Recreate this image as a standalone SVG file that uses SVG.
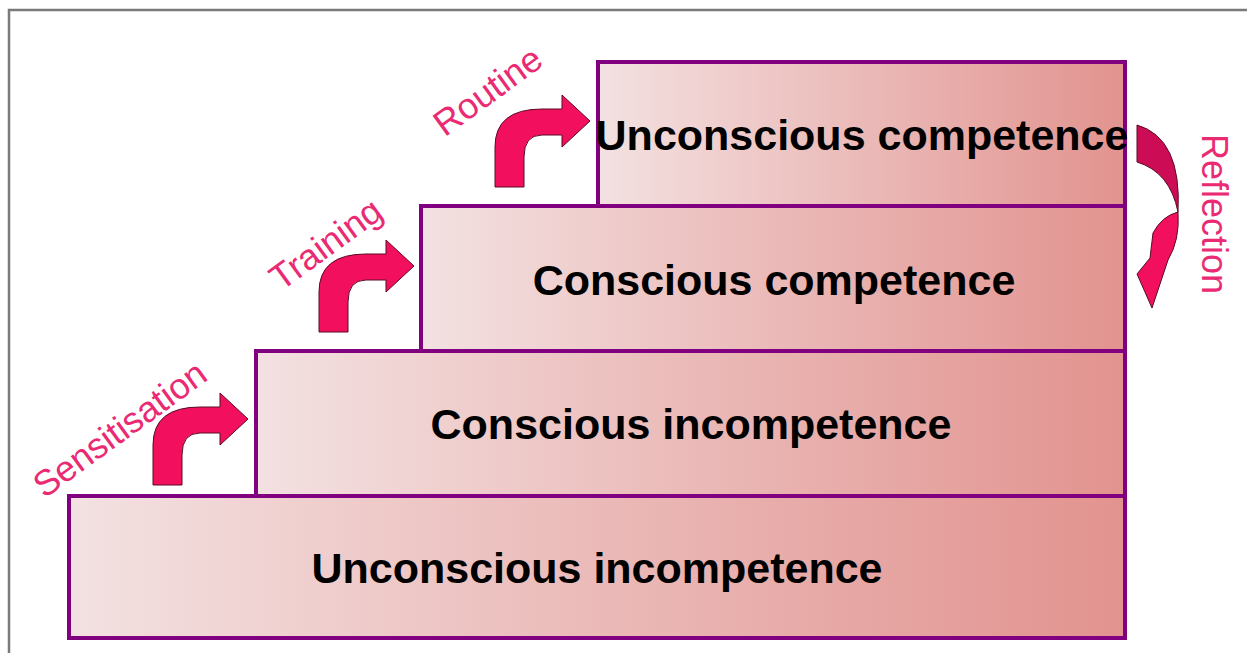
<svg xmlns="http://www.w3.org/2000/svg" width="1247" height="653" viewBox="0 0 1247 653">
<defs>
<linearGradient id="g" x1="0" y1="0" x2="1" y2="0">
<stop offset="0" stop-color="#f3e1e1"/>
<stop offset="1" stop-color="#e2938f"/>
</linearGradient>
<path id="bend" d="M0,0 L0,-40 Q0,-78 47,-78 L67,-78 L67,-92 L95,-66 L67,-40 L67,-52 L47,-52 Q29,-52 29,-30 L29,0 Z"/>
</defs>
<style>
.box{fill:url(#g);stroke:#800080;stroke-width:4}
.lbl{font-family:"Liberation Sans",Arial,sans-serif;font-weight:bold;font-size:43px;fill:#000;text-anchor:middle}
.step{font-family:"Liberation Sans",Arial,sans-serif;font-size:36px;fill:#ea2a72;text-anchor:middle}
.arr{fill:#f2105e;stroke:#5a0a25;stroke-width:1}
.arrd{fill:#cc0d55;stroke:#5a0a25;stroke-width:1}
</style>
<rect width="1247" height="653" fill="#fff"/>
<path d="M9,653 L9,10 L1247,10" fill="none" stroke="#7a7a7a" stroke-width="2.5"/>
<g id="n1"><rect class="box" x="69" y="496" width="1056" height="142"/><text class="lbl" x="597" y="583">Unconscious incompetence</text></g>
<g id="n2"><rect class="box" x="256" y="351" width="869" height="145"/><text class="lbl" x="691" y="439">Conscious incompetence</text></g>
<g id="n3"><rect class="box" x="421" y="206" width="704" height="145"/><text class="lbl" x="774" y="295">Conscious competence</text></g>
<g id="n4"><rect class="box" x="598" y="62" width="527" height="144"/><text class="lbl" x="862" y="150">Unconscious competence</text></g>
<g id="connectors">
<use href="#bend" class="arr" x="153" y="485"/>
<use href="#bend" class="arr" x="319" y="332"/>
<use href="#bend" class="arr" x="495" y="187"/>
<path class="arrd" d="M1137,125 Q1182,138 1178,212 Q1170,172 1137,162 Z"/>
<path class="arr" d="M1178,212 Q1180,240 1168,260 L1152,308 L1137,274 L1150,258 L1153,233 Q1162,216 1178,212 Z"/>
</g>
<g id="labels">
<text class="step" transform="translate(127,439) rotate(-36)">Sensitisation</text>
<text class="step" transform="translate(333,254) rotate(-36)">Training</text>
<text class="step" transform="translate(495,101) rotate(-36)">Routine</text>
<text class="step" transform="translate(1202,214) rotate(90)">Reflection</text>
</g>
</svg>
